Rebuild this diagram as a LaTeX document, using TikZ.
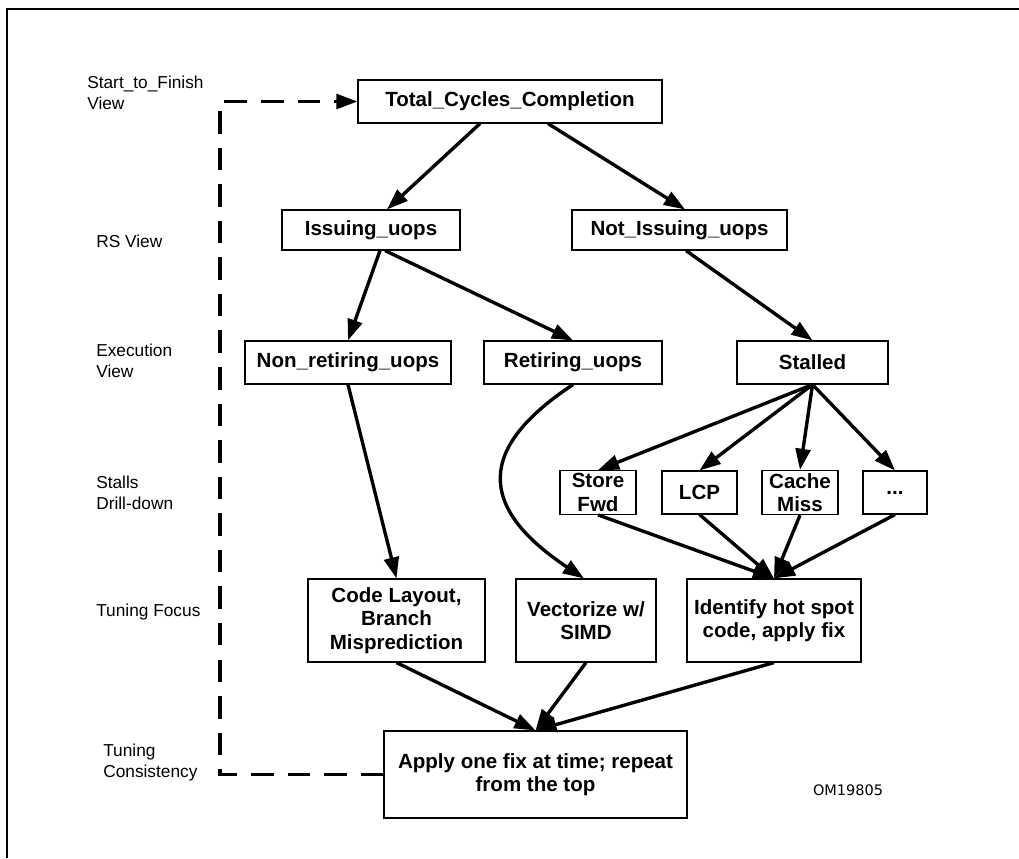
\documentclass[tikz,border=0pt]{standalone}
\usepackage{fontspec}
\setmainfont{Liberation Sans}
\newfontfamily\figidfont{DejaVu Sans}
\usepackage{tikz}
\usetikzlibrary{arrows.meta,calc}
\newcommand{\px}{0.025cm}

\begin{document}
\begin{tikzpicture}[x=\px,y=-\px,
    stage/.style={draw=black,line width=0.8pt,minimum height=43*\px,inner sep=2pt,align=center,font=\fontsize{14.6pt}{16.7pt}\selectfont\bfseries},
    level/.style={anchor=west,inner sep=0pt,align=left,font=\fontsize{12.3pt}{15pt}\selectfont},
    arr/.style={-{Triangle[length=15pt,width=10.5pt]},line width=2.4pt,black},
    back/.style={-{Triangle[length=15pt,width=10.5pt]},line width=2.4pt,dash pattern=on 16pt off 10pt},
    frame/.style={line width=1.5pt}
  ]
    \useasboundingbox (0,0) rectangle (1019,858);
    \draw[frame] (7,858) -- (7,9) -- (1019,9);
    % view levels
    \node[level] (l1) at (87,92.5) {Start\_to\_Finish\\View};
    \node[level] (l2) at (96,241) {RS View};
    \node[level] (l3) at (96,361) {Execution\\View};
    \node[level] (l4) at (96,493) {Stalls\\Drill-down};
    \node[level] (l5) at (96,612) {Tuning Focus};
    \node[level] (l6) at (103,762.5) {Tuning\\Consistency};
    % boxes
    \node[stage,minimum width=304*\px] (total) at (510,101.5) {Total\_Cycles\_Completion};
    \node[stage,minimum width=178*\px,minimum height=40*\px] (iss) at (371,230) {Issuing\_uops};
    \node[stage,minimum width=215*\px,minimum height=40*\px] (notiss) at (679.5,230) {Not\_Issuing\_uops};
    \node[stage,minimum width=206*\px] (nonret) at (348,362.5) {Non\_retiring\_uops};
    \node[stage,minimum width=178*\px] (ret) at (573,362.5) {Retiring\_uops};
    \node[stage,minimum width=151*\px] (stall) at (812.5,362.5) {Stalled};
    \node[stage,minimum width=76*\px] (sfwd) at (598,492.5) {Store\\Fwd};
    \node[stage,minimum width=75*\px] (lcp) at (699.5,492.5) {LCP};
    \node[stage,minimum width=76*\px] (cmiss) at (800,492.5) {Cache\\Miss};
    \node[stage,minimum width=64*\px] (more) at (895,492.5) {...};
    \node[stage,minimum width=177*\px,minimum height=83*\px] (layout) at (396.5,620.5) {Code Layout,\\Branch\\Misprediction};
    \node[stage,minimum width=140*\px,minimum height=83*\px] (simd) at (586,620.5) {Vectorize w/\\SIMD};
    \node[stage,minimum width=174*\px,minimum height=83*\px] (hot) at (774,620.5) {Identify hot spot\\code, apply fix};
    \node[stage,minimum width=303*\px,minimum height=87*\px] (apply) at (535.5,774.5) {Apply one fix at time; repeat\\from the top};
    \node[font=\figidfont\fontsize{10.3pt}{12pt}\selectfont,inner sep=0pt] (figid) at (848,790) {OM19805};
    % connectors
    \draw[arr] ($(total.south)+(-30,0)$) -- ($(iss.north)+(16,0)$);
    \draw[arr] ($(total.south)+(38,0)$) -- ($(notiss.north)+(5.5,0)$);
    \draw[arr] ($(iss.south)+(9,0)$) -- (nonret.north);
    \draw[arr] ($(iss.south)+(14,0)$) -- (ret.north);
    \draw[arr] ($(notiss.south)+(6.5,0)$) -- (stall.north);
    \draw[arr] (nonret.south) -- (layout.north);
    \draw[arr] (ret.south) .. controls (477,448) and (477,507) .. ($(simd.north)+(-2,0)$);
    \foreach \n in {sfwd,lcp,cmiss,more}{
      \draw[arr] (stall.south) -- (\n.north);
      \draw[arr] (\n.south) -- (hot.north);
    }
    \foreach \n in {layout,simd,hot}
      \draw[arr] (\n.south) -- (apply.north);
    \coordinate (lp) at (220,0);
    \draw[back] (apply.west) -| (lp |- total.west) -- (total.west);
  \end{tikzpicture}
\end{document}
